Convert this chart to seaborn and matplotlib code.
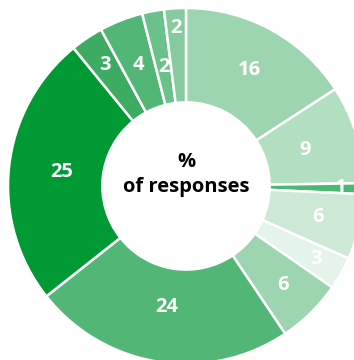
import matplotlib
matplotlib.use("Agg")
import matplotlib.pyplot as plt
import seaborn as sns
import numpy as np

values = [16, 9, 1, 6, 3, 6, 24, 25, 3, 4, 2, 2]
labels = ["16", "9", "1", "6", "3", "6", "24", "25", "3", "4", "2", "2"]
colors = ["#9dd5b0", "#b3dfc1", "#4db874", "#cde9d6", "#e5f4ea", "#9dd5b0",
          "#52b776", "#009933", "#3dab62", "#52b776", "#6bc18a", "#86cb9d"]
label_r = [0.74, 0.70, 0.87, 0.76, 0.84, 0.78, 0.69, 0.70, 0.82, 0.73, 0.68, 0.89]
center_text = "%\nof responses"

sns.set_theme(style="white")
plt.rcParams['font.family'] = ['Open Sans', 'DejaVu Sans']

fig = plt.figure(figsize=(3.54, 3.6), dpi=100)
ax = fig.add_axes([0, 0, 1, 1])
wedges, _ = ax.pie(values, colors=colors, startangle=90, counterclock=False,
                   radius=1.0,
                   wedgeprops=dict(width=0.53, edgecolor="white", linewidth=1.8))
total = sum(values)
cum = 0
for v, lab, r in zip(values, labels, label_r):
    mid = 90 - (cum + v / 2) / total * 360
    cum += v
    a = np.deg2rad(mid)
    ax.text(r * np.cos(a), r * np.sin(a), lab, ha="center", va="center",
            color="white", fontsize=14.5, fontweight="bold")
ax.text(0, 0.065, center_text, ha="center", va="center", color="black",
        fontsize=14.5, fontweight="bold", linespacing=1.3)
ax.set_xlim(-1.045, 0.944)
ax.set_ylim(-0.978, 1.045)
ax.set_aspect("equal")
ax.axis("off")
fig.savefig("out.png", dpi=100)
